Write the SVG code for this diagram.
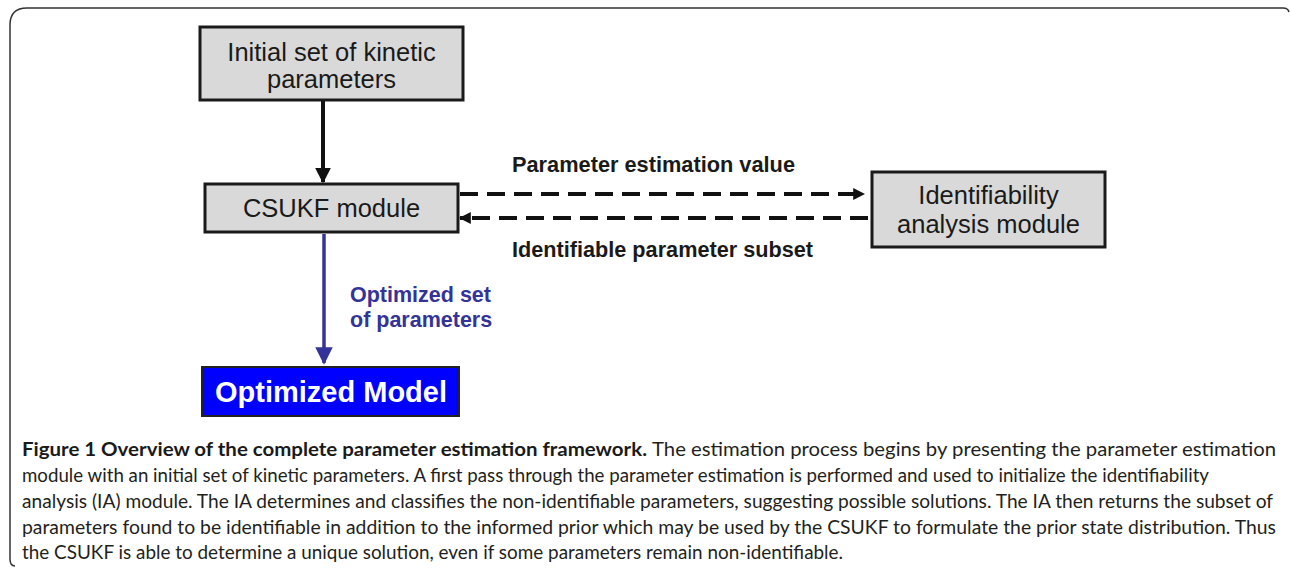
<svg xmlns="http://www.w3.org/2000/svg" width="1290" height="568" viewBox="0 0 1290 568">
<defs>
<style>
.box{fill:#d9d9d9;stroke:#1a1a1a;stroke-width:3}
.bt{font-family:"Liberation Sans",Arial,sans-serif;font-size:25.5px;fill:#1a1a1a;text-anchor:middle}
.lab{font-family:"Liberation Sans",Arial,sans-serif;font-size:22px;font-weight:bold;fill:#1a1a1a}
.blab{font-family:"Liberation Sans",Arial,sans-serif;font-size:21.5px;font-weight:bold;fill:#333399}
.cap{font-family:Lato,"Open Sans",sans-serif;font-size:18.5px;fill:#231f20}
.capb{font-family:Lato,"Open Sans",sans-serif;font-size:18.5px;font-weight:bold;fill:#1a1a1a}
.dash{stroke:#111;stroke-width:4;stroke-dasharray:18 9;fill:none}
</style>
<marker id="ahb" viewBox="0 0 10 10" refX="9" refY="5" markerWidth="4" markerHeight="4" orient="auto" markerUnits="strokeWidth"><path d="M0,0 L10,5 L0,10 z" fill="#111"/></marker>
<marker id="ahs" viewBox="0 0 10 10" refX="9" refY="5" markerWidth="3" markerHeight="3" orient="auto" markerUnits="strokeWidth"><path d="M0,0 L10,5 L0,10 z" fill="#111"/></marker>
<marker id="ahblue" viewBox="0 0 10 10" refX="9" refY="5" markerWidth="5" markerHeight="5" orient="auto" markerUnits="strokeWidth"><path d="M0,0 L10,5 L0,10 z" fill="#333399"/></marker>
</defs>
<rect width="1290" height="568" fill="#fff"/>
<path d="M15,566 Q10,566 10,559 L10,25 Q10,8 27,8 L1283,8 Q1288,8 1289,12" fill="none" stroke="#333" stroke-width="1.5"/>

<g id="connectors">
<line x1="323" y1="101" x2="323" y2="182" stroke="#111" stroke-width="4" marker-end="url(#ahb)"/>
<line x1="460" y1="194" x2="864" y2="194" class="dash" marker-end="url(#ahs)"/>
<line x1="868" y1="218" x2="460" y2="218" class="dash" marker-end="url(#ahs)"/>
<line x1="324" y1="234" x2="324" y2="363" stroke="#333399" stroke-width="3.5" marker-end="url(#ahblue)"/>
<text class="lab" x="512" y="172" textLength="283" lengthAdjust="spacingAndGlyphs">Parameter estimation value</text>
<text class="lab" x="512" y="257" textLength="301" lengthAdjust="spacingAndGlyphs">Identifiable parameter subset</text>
<text class="blab" x="350" y="302">Optimized set</text>
<text class="blab" x="350" y="327">of parameters</text>
</g>

<g id="node-initial">
<rect class="box" x="200" y="27" width="263" height="73"/>
<text class="bt" x="331.5" y="61">Initial set of kinetic</text>
<text class="bt" x="331.5" y="88">parameters</text>
</g>

<g id="node-csukf">
<rect class="box" x="205" y="184" width="253" height="48"/>
<text class="bt" x="331.5" y="217">CSUKF module</text>
</g>

<g id="node-ia">
<rect class="box" x="872" y="172" width="233" height="75"/>
<text class="bt" x="988.5" y="204">Identifiability</text>
<text class="bt" x="988.5" y="233">analysis module</text>
</g>

<g id="node-model">
<rect x="202" y="367" width="257" height="49" fill="#0000ff" stroke="#222" stroke-width="2"/>
<text x="331" y="402" font-family="Liberation Sans,Arial,sans-serif" font-size="29" font-weight="bold" fill="#fff" text-anchor="middle">Optimized Model</text>
</g>

<g id="caption">
<text class="capb" x="22" y="456" textLength="625" lengthAdjust="spacingAndGlyphs">Figure 1 Overview of the complete parameter estimation framework.</text>
<text class="cap" x="652" y="456" textLength="624" lengthAdjust="spacingAndGlyphs">The estimation process begins by presenting the parameter estimation</text>
<text class="cap" x="22" y="482" textLength="1187" lengthAdjust="spacingAndGlyphs">module with an initial set of kinetic parameters. A first pass through the parameter estimation is performed and used to initialize the identifiability</text>
<text class="cap" x="22" y="508" textLength="1251" lengthAdjust="spacingAndGlyphs">analysis (IA) module. The IA determines and classifies the non-identifiable parameters, suggesting possible solutions. The IA then returns the subset of</text>
<text class="cap" x="22" y="534" textLength="1254" lengthAdjust="spacingAndGlyphs">parameters found to be identifiable in addition to the informed prior which may be used by the CSUKF to formulate the prior state distribution. Thus</text>
<text class="cap" x="22" y="559" textLength="821" lengthAdjust="spacingAndGlyphs">the CSUKF is able to determine a unique solution, even if some parameters remain non-identifiable.</text>
</g>
</svg>
